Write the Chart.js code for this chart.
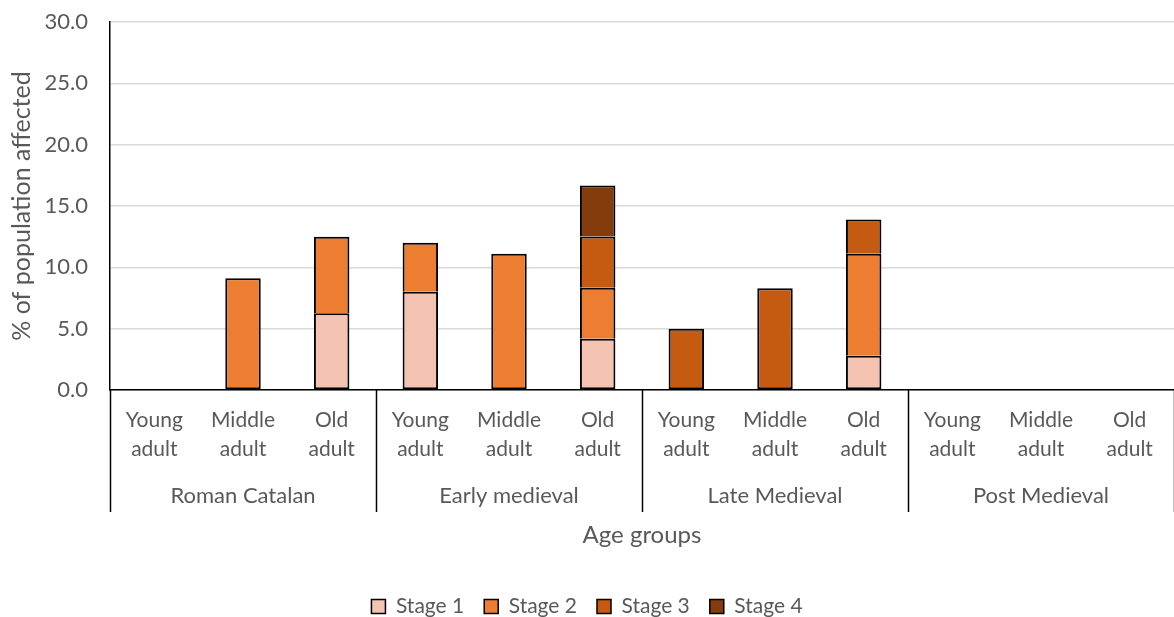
<!DOCTYPE html>
<html>
<head>
<meta charset="utf-8">
<script src="https://cdn.jsdelivr.net/npm/chart.js@4.4.1/dist/chart.umd.min.js"></script>
<style>
  html, body { margin: 0; padding: 0; background: #ffffff; }
  #wrap { width: 1174px; height: 617px; position: relative; }
</style>
</head>
<body>
<div id="wrap"><canvas id="chart"></canvas></div>
<script>
// Age groups within each period
const ageLabels = [
  ["Young", "adult"], ["Middle", "adult"], ["Old", "adult"],
  ["Young", "adult"], ["Middle", "adult"], ["Old", "adult"],
  ["Young", "adult"], ["Middle", "adult"], ["Old", "adult"],
  ["Young", "adult"], ["Middle", "adult"], ["Old", "adult"]
];
const periods = ["Roman Catalan", "Early medieval", "Late Medieval", "Post Medieval"];
const agesPerPeriod = 3;

// % of population affected, per stage
const stage1 = [0, 0, 6.25, 8.0, 0, 4.17, 0, 0, 2.8, 0, 0, 0];
const stage2 = [0, 9.1, 6.25, 4.0, 11.1, 4.17, 0, 0, 8.3, 0, 0, 0];
const stage3 = [0, 0, 0, 0, 0, 4.17, 5.0, 8.3, 2.8, 0, 0, 0];
const stage4 = [0, 0, 0, 0, 0, 4.17, 0, 0, 0, 0, 0, 0];

const yTicks = [0, 5, 10, 15, 20, 25, 30];

const textColor = "#595959";
const fontFamily = "Lato, 'Liberation Sans', sans-serif";

// Period separators and period names beneath the age labels
const periodAxis = {
  id: "periodAxis",
  afterDraw(chart) {
    const x = chart.scales.x;
    const ctx = chart.ctx;
    const half = (x.getPixelForValue(1) - x.getPixelForValue(0)) / 2;
    const top = x.top;
    const bottom = top + 122;
    ctx.save();
    ctx.strokeStyle = "#000000";
    ctx.lineWidth = 1.5;
    for (let p = 0; p <= periods.length; p++) {
      const idx = p * agesPerPeriod;
      const px = Math.round(x.getPixelForValue(idx) - half) + 0.5;
      ctx.beginPath();
      ctx.moveTo(px, top);
      ctx.lineTo(px, bottom);
      ctx.stroke();
    }
    ctx.fillStyle = textColor;
    ctx.font = "22px " + fontFamily;
    ctx.textAlign = "center";
    ctx.textBaseline = "middle";
    periods.forEach((name, p) => {
      const first = x.getPixelForValue(p * agesPerPeriod);
      const last = x.getPixelForValue(p * agesPerPeriod + agesPerPeriod - 1);
      ctx.fillText(name, (first + last) / 2, top + 106);
    });
    ctx.restore();
  }
};

// Segments with no value get no outline; a segment resting on another
// one skips its lower edge so the shared edge is drawn once
const barStyle = {
  borderColor: "#000000",
  borderWidth: c => (c.raw ? 2 : 0),
  borderSkipped: c => {
    const sets = c.chart.data.datasets;
    for (let d = 0; d < c.datasetIndex; d++) {
      if (sets[d].data[c.dataIndex]) return "start";
    }
    return false;
  },
  barPercentage: 0.4,
  categoryPercentage: 1.0
};

new Chart(document.getElementById("chart"), {
  type: "bar",
  data: {
    labels: ageLabels,
    datasets: [
      Object.assign({ label: "Stage 1", data: stage1, backgroundColor: "#F4C3B1" }, barStyle),
      Object.assign({ label: "Stage 2", data: stage2, backgroundColor: "#ED7D31" }, barStyle),
      Object.assign({ label: "Stage 3", data: stage3, backgroundColor: "#C55A11" }, barStyle),
      Object.assign({ label: "Stage 4", data: stage4, backgroundColor: "#843C0C" }, barStyle)
    ]
  },
  options: {
    responsive: true,
    maintainAspectRatio: false,
    animation: false,
    layout: { padding: { top: 0, right: 0, bottom: -10, left: 0 } },
    plugins: {
      tooltip: { enabled: false },
      legend: {
        position: "bottom",
        labels: {
          color: textColor,
          font: { family: fontFamily, size: 21 },
          boxWidth: 14,
          boxHeight: 14,
          padding: 20,
          generateLabels(chart) {
            return chart.data.datasets.map((ds, i) => ({
              text: ds.label,
              fillStyle: ds.backgroundColor,
              strokeStyle: "#000000",
              lineWidth: 1.5,
              fontColor: textColor,
              datasetIndex: i,
              hidden: false
            }));
          }
        }
      }
    },
    scales: {
      x: {
        stacked: true,
        grid: { display: false, drawTicks: false },
        border: { display: true, color: "#000000", width: 1.5 },
        ticks: {
          color: textColor,
          font: { family: fontFamily, size: 21, lineHeight: 1.38 },
          padding: 15.5,
          maxRotation: 0,
          autoSkip: false
        },
        title: {
          display: true,
          text: "Age groups",
          color: textColor,
          font: { family: fontFamily, size: 24 },
          padding: { top: 0, bottom: 26.6 }
        },
        afterFit(scale) {
          scale.height = 186;
          scale.paddingLeft = 0;
          scale.paddingRight = 0;
        }
      },
      y: {
        stacked: true,
        min: 0,
        max: 30,
        afterBuildTicks(scale) {
          scale.ticks = yTicks.map(v => ({ value: v }));
        },
        grid: { color: "#D9D9D9", lineWidth: 1.5, drawTicks: false },
        border: { display: true, color: "#000000", width: 1.5 },
        ticks: {
          color: textColor,
          font: { family: fontFamily, size: 22 },
          padding: 22,
          callback: v => Number(v).toFixed(1)
        },
        title: {
          display: true,
          text: "% of population affected",
          color: textColor,
          font: { family: fontFamily, size: 25 },
          padding: { top: 7, bottom: 0 }
        },
        afterFit(scale) {
          scale.width = 110;
          scale.paddingTop = 22;
          scale.paddingBottom = 0;
        }
      }
    }
  },
  plugins: [periodAxis]
});
</script>
</body>
</html>
